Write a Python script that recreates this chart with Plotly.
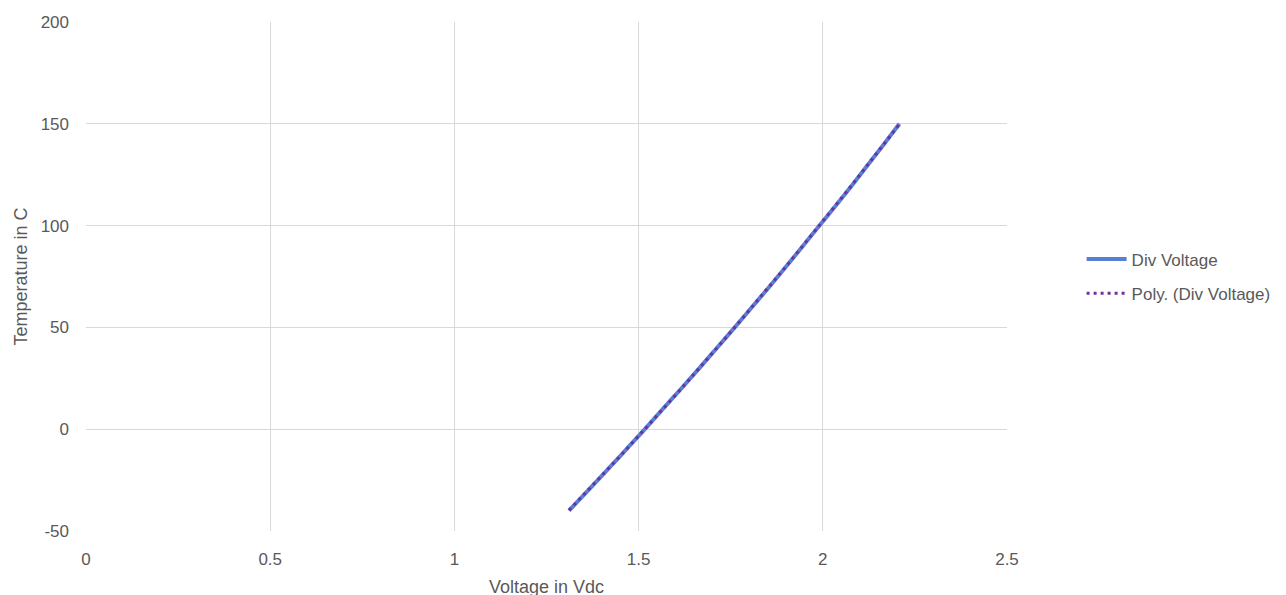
import numpy as np
import plotly.graph_objects as go

temps = [-40, -30, -20, -10, 0, 10, 20, 30, 40, 50, 60, 70, 80, 90, 100, 110, 120, 130, 140, 150]
volts = [1.311, 1.363, 1.415, 1.466, 1.517, 1.566, 1.616, 1.665, 1.713, 1.761,
         1.808, 1.855, 1.901, 1.946, 1.991, 2.036, 2.080, 2.123, 2.166, 2.208]

x_ticks = [0, 0.5, 1, 1.5, 2, 2.5]
x_tick_labels = ["0", "0.5", "1", "1.5", "2", "2.5"]
y_ticks = [-50, 0, 50, 100, 150, 200]
y_tick_labels = ["-50", "0", "50", "100", "150", "200"]

# polynomial (order 2) trendline of temperature vs voltage
coef = np.polyfit(volts, temps, 2)
fit_x = np.linspace(min(volts), max(volts), 100)
fit_y = np.polyval(coef, fit_x)

fig = go.Figure()
fig.add_trace(go.Scatter(x=volts, y=temps, mode="lines", name="Div Voltage",
                         legendgroup="a",
                         line=dict(color="#5580D4", width=4, shape="spline")))
fig.add_trace(go.Scatter(x=fit_x, y=fit_y, mode="lines", name="Poly. (Div Voltage)",
                         legendgroup="b",
                         line=dict(color="#7030A0", width=3, dash="3px,4px")))

font = "Liberation Sans"
txt = "#595959"
fig.update_layout(
    width=1286, height=595,
    margin=dict(l=78, r=287, t=14, b=72),
    paper_bgcolor="white", plot_bgcolor="white",
    font=dict(family=font, size=16, color=txt),
    showlegend=True,
    legend=dict(x=1.081, y=0.5, xanchor="left", yanchor="middle", itemwidth=40,
                font=dict(size=17, color=txt), tracegroupgap=9),
    xaxis=dict(range=[0, 2.5], tickvals=x_ticks, ticktext=x_tick_labels,
               showgrid=True, gridcolor="#d9d9d9", gridwidth=1, zeroline=False,
               showline=False, ticks="", ticklabelstandoff=16,
               tickfont=dict(size=17, color=txt),
               title=dict(text="Voltage in Vdc", font=dict(size=18, color=txt), standoff=12),
               automargin=False),
    yaxis=dict(range=[-50, 200], tickvals=y_ticks, ticktext=y_tick_labels,
               showgrid=True, gridcolor="#d9d9d9", gridwidth=1, zeroline=False,
               showline=False, ticks="", ticklabelstandoff=16,
               tickfont=dict(size=17, color=txt),
               title=dict(text="Temperature in C", font=dict(size=18, color=txt), standoff=8),
               automargin=False),
)

fig.write_html("out.html")
